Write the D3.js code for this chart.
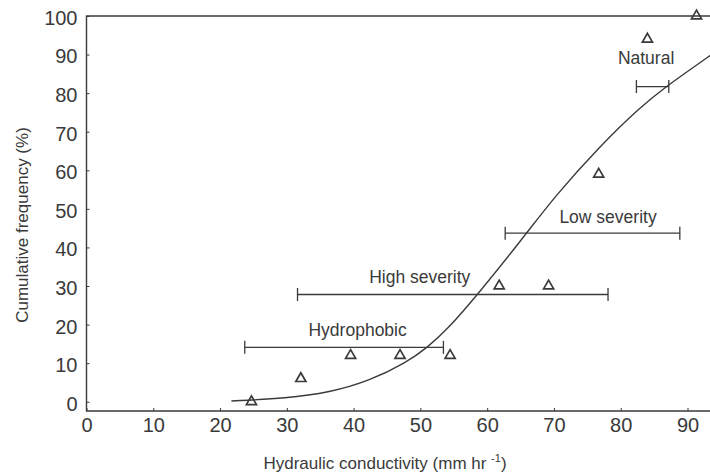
<!DOCTYPE html>
<html>
<head>
<meta charset="utf-8">
<script src="https://cdn.jsdelivr.net/npm/d3@7"></script>
<style>
  html, body { margin: 0; padding: 0; background: #fff; }
  svg { display: block; font-family: "Liberation Sans", Arial, sans-serif; }
</style>
</head>
<body>
<div id="chart"></div>
<script>
// observed points (open triangles)
var obsK = [24.7, 32.1, 39.55, 46.95, 54.45, 61.8, 69.2, 76.7, 84.0, 91.35];
var obsFreq = [0, 6, 12, 12, 12, 30, 30, 59, 94, 100];

// fitted curve
var fitK = [21.7, 30, 36.4, 42.4, 48, 51, 54, 58.2, 65.4, 70, 77, 83, 86.5, 90, 93.5];
var fitFreq = [0.2, 0.9, 2.4, 5.4, 10.3, 14, 18.7, 27, 42.5, 53, 66.5, 76.5, 81.3, 85.6, 89.9];

// range bars per treatment
var groups = ["Hydrophobic", "High severity", "Low severity", "Natural"];
var groupMin = [23.7, 31.6, 62.7, 82.35];
var groupMax = [53.45, 78.1, 88.85, 87.2];
var groupLevel = [14.1, 27.8, 43.7, 81.7];
var labelK = [40.6, 49.9, 78.1, 83.8];
var labelFreq = [18.8, 32.3, 47.9, 89.1];

var xTicks = [0, 10, 20, 30, 40, 50, 60, 70, 80, 90];
var yTicks = [0, 10, 20, 30, 40, 50, 60, 70, 80, 90, 100];

(function () {
  'use strict';

  var width = 710, height = 476;
  var ink = "#3a3a3a";

  var x = d3.scaleLinear().domain([0, 90]).range([86.5, 687.5]);
  var y = d3.scaleLinear().domain([-2.4, 100]).range([411, 16]);
  var xLeft = x.range()[0], xRight = width, yBottom = y.range()[0], yTop = y.range()[1];

  var svg = d3.select("#chart").append("svg")
    .attr("width", width)
    .attr("height", height);

  svg.append("defs").append("clipPath").attr("id", "plot")
    .append("rect")
    .attr("x", xLeft).attr("y", yTop - 8)
    .attr("width", xRight - xLeft).attr("height", yBottom - yTop + 8);

  // x axis, ticks pointing inward
  var xAxis = svg.append("g")
    .attr("transform", "translate(0," + yBottom + ")")
    .call(d3.axisBottom(x).tickValues(xTicks).tickSizeInner(-3).tickSizeOuter(0).tickPadding(8));
  xAxis.select(".domain").remove();
  xAxis.selectAll(".tick line").attr("stroke", ink);
  xAxis.selectAll("text")
    .attr("fill", ink)
    .attr("font-size", 20)
    .attr("dy", "0.71em")
    .attr("y", 7);

  // y axis
  var yAxis = svg.append("g")
    .attr("transform", "translate(" + xLeft + ",0)")
    .call(d3.axisLeft(y).tickValues(yTicks).tickSizeInner(-3).tickSizeOuter(0).tickPadding(9));
  yAxis.select(".domain").remove();
  yAxis.selectAll(".tick line").attr("stroke", ink);
  yAxis.selectAll("text")
    .attr("fill", ink)
    .attr("font-size", 20)
    .attr("dy", "0.42em")
    .attr("x", -9);

  // frame: left, bottom, top (right side is cut off in the original)
  svg.append("path")
    .attr("d", "M" + xRight + "," + yTop + "H" + xLeft + "V" + yBottom + "H" + xRight)
    .attr("fill", "none")
    .attr("stroke", ink)
    .attr("stroke-width", 1.4);

  var plot = svg.append("g").attr("clip-path", "url(#plot)");

  // fitted curve
  var fit = fitK.map(function (k, i) { return [k, fitFreq[i]]; });
  plot.append("path")
    .datum(fit)
    .attr("d", d3.line()
      .x(function (d) { return x(d[0]); })
      .y(function (d) { return y(d[1]); })
      .curve(d3.curveBasis))
    .attr("fill", "none")
    .attr("stroke", ink)
    .attr("stroke-width", 1.4);

  // range bars with end caps
  var bars = plot.selectAll("g.bar")
    .data(groups)
    .join("g")
    .attr("class", "bar")
    .attr("stroke", ink)
    .attr("stroke-width", 1.3);
  bars.append("line")
    .attr("x1", function (d, i) { return x(groupMin[i]); })
    .attr("x2", function (d, i) { return x(groupMax[i]); })
    .attr("y1", function (d, i) { return y(groupLevel[i]); })
    .attr("y2", function (d, i) { return y(groupLevel[i]); });
  bars.append("line")
    .attr("x1", function (d, i) { return x(groupMin[i]); })
    .attr("x2", function (d, i) { return x(groupMin[i]); })
    .attr("y1", function (d, i) { return y(groupLevel[i]) - 6.5; })
    .attr("y2", function (d, i) { return y(groupLevel[i]) + 6.5; });
  bars.append("line")
    .attr("x1", function (d, i) { return x(groupMax[i]); })
    .attr("x2", function (d, i) { return x(groupMax[i]); })
    .attr("y1", function (d, i) { return y(groupLevel[i]) - 6.5; })
    .attr("y2", function (d, i) { return y(groupLevel[i]) + 6.5; });

  // observed points
  var tri = d3.symbol().type(d3.symbolTriangle).size(44);
  plot.selectAll("path.obs")
    .data(obsK)
    .join("path")
    .attr("class", "obs")
    .attr("d", tri)
    .attr("transform", function (d, i) { return "translate(" + x(d) + "," + y(obsFreq[i]) + ")"; })
    .attr("fill", "none")
    .attr("stroke", ink)
    .attr("stroke-width", 1.7);

  // group labels
  svg.selectAll("text.group")
    .data(groups)
    .join("text")
    .attr("class", "group")
    .attr("x", function (d, i) { return x(labelK[i]); })
    .attr("y", function (d, i) { return y(labelFreq[i]); })
    .attr("dy", "0.36em")
    .attr("text-anchor", "middle")
    .attr("font-size", 17.5)
    .attr("fill", ink)
    .text(function (d) { return d; });

  // axis titles
  var xt = svg.append("text")
    .attr("x", 385)
    .attr("y", 469)
    .attr("text-anchor", "middle")
    .attr("font-size", 17)
    .attr("fill", ink);
  xt.append("tspan").text("Hydraulic conductivity (mm hr ");
  xt.append("tspan").attr("font-size", 11).attr("dy", -7).text("-1");
  xt.append("tspan").attr("dy", 7).text(")");

  svg.append("text")
    .attr("transform", "translate(28,225) rotate(-90)")
    .attr("text-anchor", "middle")
    .attr("font-size", 17)
    .attr("fill", ink)
    .text("Cumulative frequency (%)");
})();
</script>
</body>
</html>
